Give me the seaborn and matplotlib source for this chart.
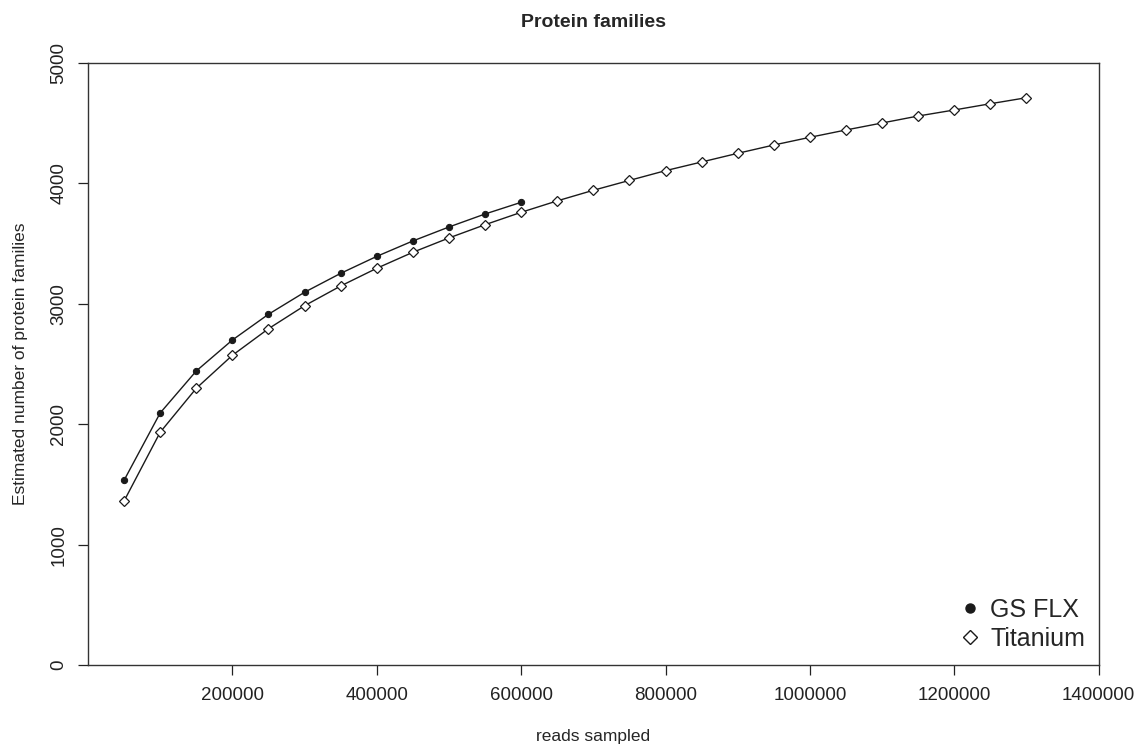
"""Rarefaction curve: estimated protein families vs reads sampled."""

import matplotlib

matplotlib.use("Agg")
import matplotlib.pyplot as plt
import pandas as pd
import seaborn as sns
from matplotlib.lines import Line2D

flx_reads = [50000, 100000, 150000, 200000, 250000, 300000,
             350000, 400000, 450000, 500000, 550000, 600000]
flx_families = [1534, 2093, 2442, 2699, 2913, 3096,
                3253, 3394, 3522, 3638, 3746, 3843]

ti_reads = [50000, 100000, 150000, 200000, 250000, 300000, 350000,
            400000, 450000, 500000, 550000, 600000, 650000, 700000,
            750000, 800000, 850000, 900000, 950000, 1000000, 1050000,
            1100000, 1150000, 1200000, 1250000, 1300000]
ti_families = [1362, 1933, 2298, 2572, 2793, 2984, 3148,
               3295, 3428, 3547, 3657, 3760, 3855, 3943,
               4025, 4106, 4178, 4250, 4319, 4383, 4444,
               4502, 4560, 4610, 4662, 4712]

x_ticks = [200000, 400000, 600000, 800000, 1000000, 1200000, 1400000]
y_ticks = [0, 1000, 2000, 3000, 4000, 5000]

sns.set_style("ticks")
plt.rcParams["font.family"] = ["Liberation Sans", "DejaVu Sans"]

flx = pd.DataFrame({"reads": flx_reads, "families": flx_families})
ti = pd.DataFrame({"reads": ti_reads, "families": ti_families})

fig = plt.figure(figsize=(11.35, 7.45), dpi=100)
ax = fig.add_axes([0.0775, 0.1074, 0.8905, 0.808])

line_col = "#1a1a1a"
sns.lineplot(data=flx, x="reads", y="families", ax=ax, color=line_col,
             linewidth=1.0, marker="o", markersize=4.5,
             markerfacecolor=line_col, markeredgecolor=line_col)
sns.lineplot(data=ti, x="reads", y="families", ax=ax, color=line_col,
             linewidth=1.0, marker="D", markersize=5,
             markerfacecolor="white", markeredgecolor=line_col,
             markeredgewidth=0.9)

ax.set_xlim(0, 1400000)
ax.set_ylim(0, 5000)
ax.set_xticks(x_ticks)
ax.set_xticklabels([str(v) for v in x_ticks])
ax.set_yticks(y_ticks)
ax.set_yticklabels([str(v) for v in y_ticks], rotation=90, va="center")
ax.tick_params(direction="out", length=7, width=0.9, colors="#222222",
               labelsize=13.5)
ax.tick_params(axis="x", pad=9)
ax.tick_params(axis="y", pad=8)
for sp in ax.spines.values():
    sp.set_visible(True)
    sp.set_color("#333333")
    sp.set_linewidth(1.0)

ax.set_title("Protein families", fontsize=14, fontweight="bold", pad=26)
ax.set_xlabel("reads sampled", fontsize=12.5, labelpad=18)
ax.set_ylabel("Estimated number of protein families", fontsize=12.5,
              labelpad=16)

handles = [
    Line2D([], [], linestyle="none", marker="o", markersize=6.5,
           color=line_col),
    Line2D([], [], linestyle="none", marker="D", markersize=7.5,
           markerfacecolor="white", markeredgecolor=line_col),
]
ax.legend(handles, ["GS FLX", "Titanium"], loc="lower right", frameon=False,
          fontsize=18, handletextpad=0.2, handlelength=1.2,
          labelspacing=0.2, borderaxespad=0.15)

fig.savefig("out.png", dpi=100)
plt.close(fig)
